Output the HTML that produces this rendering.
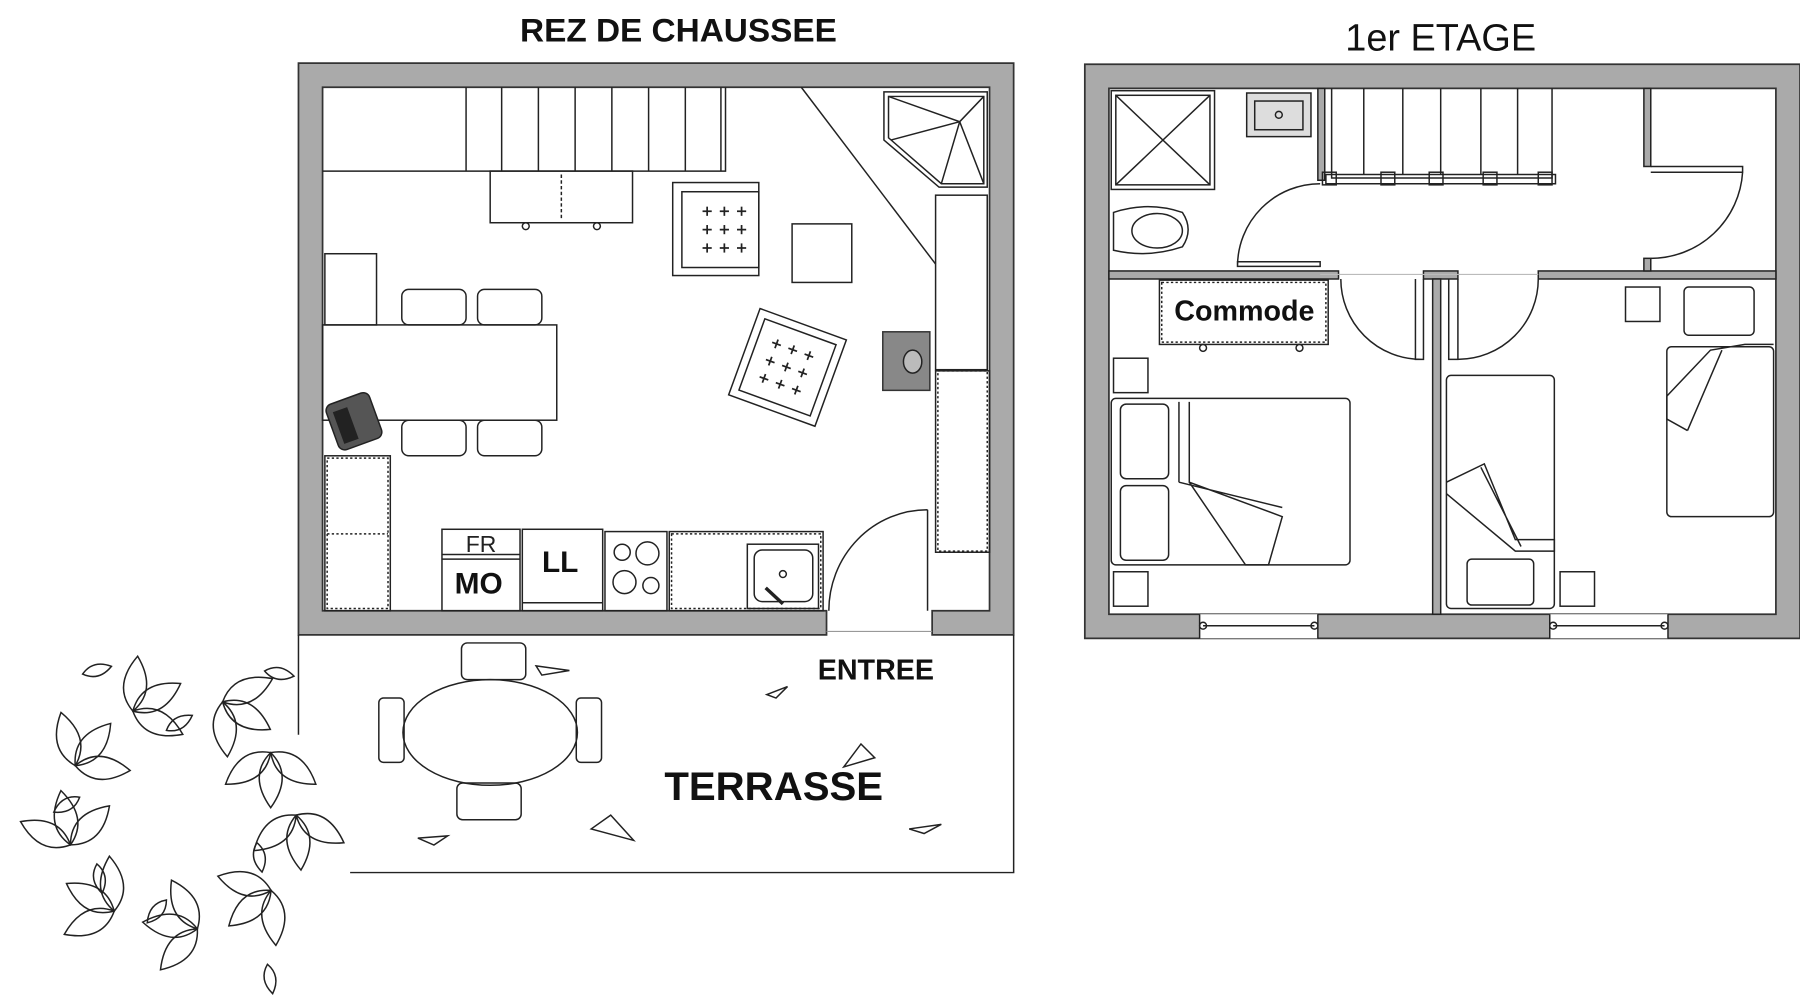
<!DOCTYPE html>
<html><head><meta charset="utf-8"><style>
html,body{margin:0;padding:0;background:#fff;width:1800px;height:1000px;overflow:hidden}
svg{display:block}
text{font-family:"Liberation Sans",Arial,sans-serif}
</style></head><body>
<svg width="1800" height="1000" viewBox="0 0 1568 871" preserveAspectRatio="none" xmlns="http://www.w3.org/2000/svg">
<defs>
<path id="lf" d="M0,0 Q20,-20 48,0 Q20,20 0,0Z" fill="none" stroke="#222" stroke-width="1.3"/>
<path id="sl" d="M0,0 Q12,-10 26,0 Q12,10 0,0Z" fill="none" stroke="#222" stroke-width="1.3"/>
<g id="cl"><use href="#lf" transform="rotate(-50)"/><use href="#lf" transform="rotate(5)"/><use href="#lf" transform="rotate(60)"/></g>
<g id="plus" stroke="#222" stroke-width="1.5"><line x1="-4" y1="0" x2="4" y2="0"/><line x1="0" y1="-4" x2="0" y2="4"/></g>
</defs>
<g fill="none" stroke="#222" stroke-width="1.3">
<text x="591" y="36" font-size="28" font-weight="bold" text-anchor="middle" fill="#111" stroke="none" textLength="276" lengthAdjust="spacingAndGlyphs">REZ DE CHAUSSEE</text>
<text x="1255" y="44" font-size="33" text-anchor="middle" fill="#111" stroke="none">1er ETAGE</text>

<path d="M260,55 H883 V553 H812 V532 H862 V76 H281 V532 H720 V553 H260 Z" fill="#aaa" stroke="#333" stroke-width="1.5"/>
<line x1="720" y1="550" x2="812" y2="550" stroke="#999" stroke-width="1"/>
<path d="M260,553 V640 M305,760 H883 V553"/>
<path d="M281,149 H632 V76 M406,76 V149 M437,76 V149 M469,76 V149 M501,76 V149 M533,76 V149 M565,76 V149 M597,76 V149 M628,76 V149"/>
<line x1="698" y1="76" x2="815" y2="230"/>
<path d="M770,80 H860 V163 H818 L770,122 Z M774,84 H857 V160 H820 L774,120 Z"/>
<path d="M774,84 L836,106 L857,84 M836,106 L820,160 M836,106 L776,122 M836,106 L857,160"/>
<rect x="815" y="170" width="45" height="152"/>
<rect x="817" y="323" width="43" height="157" stroke-dasharray="2,2"/>
<rect x="815" y="323" width="47" height="158"/>
<rect x="769" y="289" width="41" height="51" fill="#888" stroke="#333"/>
<ellipse cx="795" cy="315" rx="8" ry="10" fill="#bbb"/>
<rect x="427" y="149" width="124" height="45"/>
<line x1="489" y1="152" x2="489" y2="192" stroke-dasharray="3,2"/>
<circle cx="458" cy="197" r="3"/><circle cx="520" cy="197" r="3"/>
<rect x="586" y="159" width="75" height="81"/>
<rect x="594" y="167" width="67" height="66"/>
<g transform="translate(616,184)"><use href="#plus"/><use href="#plus" x="15"/><use href="#plus" x="30"/><use href="#plus" y="16"/><use href="#plus" x="15" y="16"/><use href="#plus" x="30" y="16"/><use href="#plus" y="32"/><use href="#plus" x="15" y="32"/><use href="#plus" x="30" y="32"/></g>
<rect x="690" y="195" width="52" height="51"/>
<g transform="translate(686,320) rotate(20)">
<rect x="-40" y="-40" width="80" height="80"/>
<rect x="-33" y="-33" width="66" height="66"/>
<g transform="translate(-16,-16)"><use href="#plus"/><use href="#plus" x="15"/><use href="#plus" x="30"/><use href="#plus" y="16"/><use href="#plus" x="15" y="16"/><use href="#plus" x="30" y="16"/><use href="#plus" y="32"/><use href="#plus" x="15" y="32"/><use href="#plus" x="30" y="32"/></g>
</g>
<rect x="283" y="221" width="45" height="62"/>
<rect x="281" y="283" width="204" height="83"/>
<rect x="350" y="252" width="56" height="31" rx="6"/><rect x="416" y="252" width="56" height="31" rx="6"/>
<rect x="350" y="366" width="56" height="31" rx="6"/><rect x="416" y="366" width="56" height="31" rx="6"/>
<g transform="translate(308,366) rotate(-20)"><rect x="-20" y="-20" width="40" height="42" rx="6" fill="#555"/><rect x="-14" y="-12" width="12" height="28" fill="#222"/></g>
<rect x="283" y="397" width="57" height="135"/>
<rect x="285" y="399" width="53" height="131" stroke-dasharray="2,2"/>
<line x1="285" y1="465" x2="338" y2="465" stroke-dasharray="2,2"/>
<rect x="385" y="461" width="68" height="71"/>
<line x1="385" y1="483" x2="453" y2="483"/><line x1="385" y1="487" x2="453" y2="487"/>
<text x="419" y="481" font-size="20" text-anchor="middle" fill="#222" stroke="none">FR</text>
<text x="417" y="517" font-size="26" font-weight="bold" text-anchor="middle" fill="#111" stroke="none">MO</text>
<rect x="455" y="461" width="70" height="71"/>
<line x1="455" y1="525" x2="525" y2="525"/>
<text x="488" y="498" font-size="26" font-weight="bold" text-anchor="middle" fill="#111" stroke="none">LL</text>
<rect x="527" y="463" width="54" height="69"/>
<circle cx="542" cy="481" r="7"/><circle cx="564" cy="482" r="10"/><circle cx="544" cy="507" r="10"/><circle cx="567" cy="510" r="7"/>
<rect x="583" y="463" width="134" height="69"/>
<rect x="585" y="465" width="130" height="65" stroke-dasharray="2,2"/>
<rect x="651" y="474" width="62" height="56"/>
<rect x="657" y="479" width="51" height="45" rx="7"/>
<circle cx="682" cy="500" r="3"/><line x1="667" y1="512" x2="682" y2="526" stroke-width="3"/>
<path d="M808,444 V532 M722,532 A86,88 0 0 1 808,444" />

<ellipse cx="427" cy="638" rx="76" ry="46"/>
<rect x="402" y="560" width="56" height="32" rx="5"/><rect x="398" y="682" width="56" height="32" rx="5"/>
<rect x="330" y="608" width="22" height="56" rx="4"/><rect x="502" y="608" width="22" height="56" rx="4"/>
<text x="763" y="592" font-size="25" font-weight="bold" text-anchor="middle" fill="#111" stroke="none">ENTREE</text>
<text x="674" y="697" font-size="35" font-weight="bold" text-anchor="middle" fill="#111" stroke="none">TERRASSE</text>
<path d="M467,580 L496,584 L472,588Z M668,605 L686,598 L676,608Z M735,668 L762,660 L750,648Z M515,722 L532,710 L552,732Z M364,730 L390,728 L378,736Z M792,722 L820,718 L805,726Z"/>

<g transform="translate(158,710)">
<use href="#cl" transform="rotate(0) translate(100,0) rotate(80)"/>
<use href="#cl" transform="rotate(40) translate(102,0) rotate(95)"/>
<use href="#cl" transform="rotate(82) translate(100,0) rotate(100)"/>
<use href="#cl" transform="rotate(125) translate(102,0) rotate(80)"/>
<use href="#cl" transform="rotate(165) translate(100,0) rotate(90)"/>
<use href="#cl" transform="rotate(205) translate(102,0) rotate(100)"/>
<use href="#cl" transform="rotate(245) translate(100,0) rotate(80)"/>
<use href="#cl" transform="rotate(290) translate(105,0) rotate(95)"/>
<use href="#cl" transform="rotate(325) translate(95,0) rotate(120)"/>
<use href="#sl" transform="rotate(20) translate(70,0) rotate(60)"/>
<use href="#sl" transform="rotate(100) translate(75,0) rotate(30)"/>
<use href="#sl" transform="rotate(150) translate(85,0) rotate(-70)"/>
<use href="#sl" transform="rotate(190) translate(90,0) rotate(-40)"/>
<use href="#sl" transform="rotate(260) translate(75,0) rotate(70)"/>
<use href="#sl" transform="rotate(300) translate(145,0) rotate(70)"/>
<use href="#sl" transform="rotate(60) translate(150,0) rotate(20)"/>
<use href="#sl" transform="rotate(235) translate(150,0) rotate(110)"/>
</g>

<path d="M945,56 H1568 V556 H945 Z M966,77 V535 H1547 V77 Z" fill="#aaa" fill-rule="evenodd" stroke="#333" stroke-width="1.5"/>
<rect x="1045" y="535" width="103" height="21" fill="#fff" stroke="none"/>
<rect x="1350" y="535" width="103" height="21" fill="#fff" stroke="none"/>
<path d="M1045,535 V556 M1148,535 V556 M1350,535 V556 M1453,535 V556"/>
<path d="M1048,545 H1145 M1353,545 H1450"/>
<circle cx="1048" cy="545" r="3"/><circle cx="1145" cy="545" r="3"/><circle cx="1353" cy="545" r="3"/><circle cx="1450" cy="545" r="3"/>
<rect x="966" y="236" width="200" height="7" fill="#aaa"/>
<rect x="1240" y="236" width="30" height="7" fill="#aaa"/>
<rect x="1340" y="236" width="207" height="7" fill="#aaa"/>
<rect x="1248" y="243" width="7" height="292" fill="#aaa"/>
<rect x="1148" y="77" width="6" height="80" fill="#aaa"/>
<rect x="1432" y="77" width="6" height="68" fill="#aaa"/>
<rect x="1432" y="225" width="6" height="11" fill="#aaa"/>
<rect x="968" y="79" width="90" height="86"/><rect x="972" y="83" width="82" height="78"/>
<path d="M972,83 L1054,161 M1054,83 L972,161"/>
<rect x="1086" y="81" width="56" height="38" fill="#ddd"/><rect x="1093" y="88" width="42" height="25"/><circle cx="1114" cy="100" r="3"/>
<path d="M970,185 Q1000,175 1030,185 Q1040,200 1030,215 Q1000,225 970,218 Z"/><ellipse cx="1008" cy="201" rx="22" ry="15"/>
<path d="M1160,77 V155 H1352 V77 M1188,77 V152 M1222,77 V152 M1255,77 V152 M1290,77 V152 M1322,77 V152"/>
<path d="M1155,152 H1355 V160 H1155 Z"/>
<rect x="1152" y="150" width="12" height="11"/><rect x="1203" y="150" width="12" height="11"/><rect x="1245" y="150" width="12" height="11"/><rect x="1292" y="150" width="12" height="11"/><rect x="1340" y="150" width="12" height="11"/>
<path d="M1078,232 H1150 V228 H1078 Z M1078,232 A72,72 0 0 1 1150,160"/>
<path d="M1438,145 H1518 V150 H1438 M1518,150 A80,80 0 0 1 1438,225"/>
<path d="M1168,243 A70,70 0 0 0 1238,313 M1233,243 V313 H1240 V243"/>
<path d="M1340,243 A70,70 0 0 1 1270,313 M1262,243 V313 H1270 V243"/>
<line x1="1150" y1="239" x2="1340" y2="239" stroke="#bbb" stroke-width="1"/>
<rect x="1010" y="244" width="147" height="56"/>
<rect x="1012" y="246" width="143" height="52" stroke-dasharray="2,2"/>
<circle cx="1048" cy="303" r="3"/><circle cx="1132" cy="303" r="3"/>
<text x="1084" y="279" font-size="25" font-weight="bold" text-anchor="middle" fill="#111" stroke="none">Commode</text>
<rect x="970" y="312" width="30" height="30"/>
<rect x="970" y="498" width="30" height="30"/>
<rect x="968" y="347" width="208" height="145" rx="4"/>
<rect x="976" y="352" width="42" height="65" rx="5"/><rect x="976" y="423" width="42" height="65" rx="5"/>
<path d="M1027,350 V420 M1036,350 V420 L1117,450 L1105,492 H1085 L1036,420 M1027,420 L1117,442"/>
<rect x="1260" y="327" width="94" height="203" rx="4"/>
<rect x="1278" y="487" width="58" height="40" rx="4"/>
<path d="M1260,420 L1293,404 L1320,470 H1354 V480 H1320 L1260,430 M1290,407 L1325,476"/>
<rect x="1359" y="498" width="30" height="30"/>
<rect x="1416" y="250" width="30" height="30"/>
<rect x="1452" y="302" width="93" height="148" rx="4"/>
<rect x="1467" y="250" width="61" height="42" rx="4"/>
<path d="M1452,345 L1490,305 L1520,300 H1545 M1470,375 L1500,305 M1452,345 V365 L1470,375"/>
</g>
</svg>
</body></html>
